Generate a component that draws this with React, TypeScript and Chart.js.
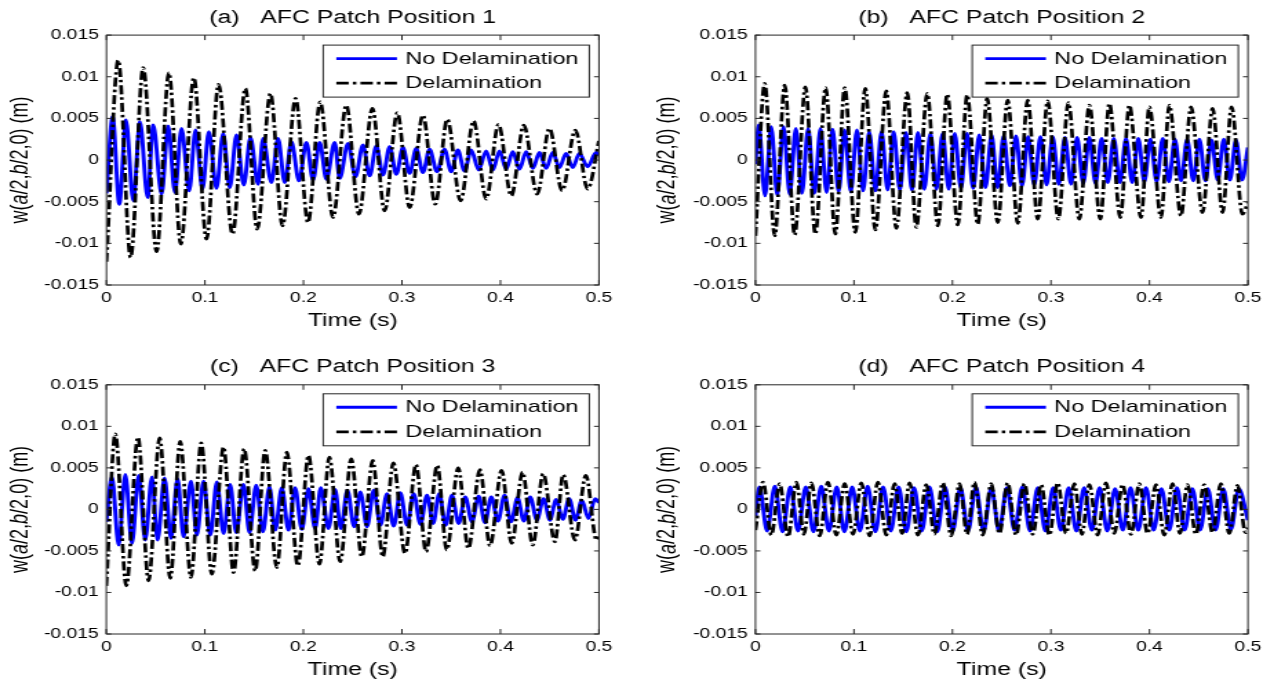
import React, { useEffect, useRef } from 'react';
import { Chart, registerables } from 'chart.js';

Chart.register(...registerables);

type Pt = [number, number];

// ---------- text / ticks ----------
const seriesNames = ['No Delamination', 'Delamination'];
const panelTitles = [
  '(a)   AFC Patch Position 1',
  '(b)   AFC Patch Position 2',
  '(c)   AFC Patch Position 3',
  '(d)   AFC Patch Position 4',
];
const xAxisTitle = 'Time (s)';
// y-axis title pieces: [text, italic?]
const yAxisTitleParts: [string, boolean][] = [
  ['w(', false],
  ['a', true],
  ['/2,', false],
  ['b', true],
  ['/2,0) (m)', false],
];
const xTickValues = [0, 0.1, 0.2, 0.3, 0.4, 0.5];
const xTickLabels = ['0', '0.1', '0.2', '0.3', '0.4', '0.5'];
const yTickValues = [-0.015, -0.01, -0.005, 0, 0.005, 0.01, 0.015];
const yTickLabels = ['-0.015', '-0.01', '-0.005', '0', '0.005', '0.01', '0.015'];

// ---------- series: [time (s), w (m)] at extrema ----------
const noDelamA: Pt[] = [
  [0, -0.004],
  [0.0063, 0.0052], [0.013, -0.0053], [0.0198, 0.0048], [0.0272, -0.0049],
  [0.034, 0.0046], [0.0418, -0.0045], [0.0475, 0.0042], [0.056, -0.0041],
  [0.0627, 0.0041], [0.0695, -0.0039], [0.0762, 0.0038], [0.084, -0.0037],
  [0.0904, 0.0036], [0.0975, -0.0035], [0.1039, 0.0034], [0.1117, -0.0034],
  [0.1185, 0.0032], [0.1252, -0.0033], [0.132, 0.003], [0.1394, -0.003],
  [0.1462, 0.0027], [0.1539, -0.0029], [0.159, 0.0026], [0.1675, -0.0027],
  [0.1742, 0.0026], [0.181, -0.0027], [0.1878, 0.0022], [0.1955, -0.0025],
  [0.203, 0.0021], [0.2097, -0.0024], [0.2165, 0.0021], [0.2233, -0.0023],
  [0.2317, 0.0021], [0.2368, -0.0022], [0.2452, 0.002], [0.2528, -0.002],
  [0.2604, 0.0018], [0.2672, -0.0019], [0.274, 0.0017], [0.2808, -0.0018],
  [0.2875, 0.0016], [0.2943, -0.0017], [0.301, 0.0015], [0.3078, -0.0016],
  [0.3145, 0.0014], [0.3213, -0.0015], [0.328, 0.0013], [0.3356, -0.0014],
  [0.3432, 0.0013], [0.35, -0.0014], [0.3567, 0.0012], [0.3635, -0.0013],
  [0.3703, 0.0012], [0.3779, -0.0012], [0.3855, 0.0011], [0.3923, -0.0012],
  [0.399, 0.0011], [0.4058, -0.0011], [0.4125, 0.001], [0.4193, -0.0011],
  [0.4261, 0.001], [0.4329, -0.001], [0.4396, 0.0009], [0.4464, -0.001],
  [0.4531, 0.0009], [0.4599, -0.0009], [0.4666, 0.0008], [0.4734, -0.0009],
  [0.4801, 0.0008], [0.4886, -0.0008], [0.4971, 0.0009], [0.5, 0.0006],
];
const delamA: Pt[] = [
  [0, -0.0122], [0.012, 0.012], [0.0245, -0.0117], [0.0373, 0.0111],
  [0.0509, -0.011], [0.0634, 0.0105], [0.0755, -0.0101], [0.0887, 0.0099],
  [0.1016, -0.0095], [0.1138, 0.0091], [0.128, -0.0089], [0.141, 0.0086],
  [0.153, -0.0083], [0.1665, 0.008], [0.1787, -0.0079], [0.192, 0.0074],
  [0.2046, -0.0075], [0.217, 0.007], [0.23, -0.0069], [0.2435, 0.0066],
  [0.2563, -0.0065], [0.27, 0.0062], [0.2824, -0.0061], [0.2953, 0.0057],
  [0.3078, -0.0057], [0.3213, 0.0054], [0.3338, -0.0053], [0.346, 0.0049],
  [0.3595, -0.0049], [0.3727, 0.0047], [0.3855, -0.0047], [0.398, 0.0043],
  [0.411, -0.0043], [0.4237, 0.0042], [0.4373, -0.0041], [0.4497, 0.0038],
  [0.4626, -0.0037], [0.476, 0.0036], [0.4885, -0.0035], [0.5, 0.0023],
];

const noDelamB: Pt[] = [
  [0, -0.0005],
  [0.0033, 0.0042], [0.0097, -0.0043], [0.016, 0.004], [0.0222, -0.0042],
  [0.0285, 0.004], [0.0348, -0.0041], [0.041, 0.0038], [0.0472, -0.004],
  [0.0535, 0.0038], [0.0598, -0.004], [0.066, 0.0038], [0.0722, -0.0039],
  [0.0783, 0.0037], [0.0844, -0.0038], [0.0905, 0.0036], [0.0968, -0.0038],
  [0.103, 0.0036], [0.1093, -0.0037], [0.1155, 0.0034], [0.1218, -0.0037],
  [0.128, 0.0034], [0.1342, -0.0036], [0.1403, 0.0034], [0.1466, -0.0036],
  [0.1528, 0.0033], [0.1589, -0.0036], [0.165, 0.0033], [0.1714, -0.0035],
  [0.1777, 0.0032], [0.1838, -0.0035], [0.19, 0.0032], [0.1962, -0.0035],
  [0.2023, 0.0032], [0.2086, -0.0034], [0.2148, 0.0032], [0.221, -0.0034],
  [0.2272, 0.003], [0.2335, -0.0033], [0.2397, 0.003], [0.2458, -0.0033],
  [0.252, 0.0029], [0.2583, -0.0031], [0.2645, 0.0029], [0.2706, -0.0031],
  [0.2768, 0.0028], [0.283, -0.003], [0.2893, 0.0028], [0.2956, -0.003],
  [0.3018, 0.0028], [0.308, -0.0029], [0.3142, 0.0027], [0.3204, -0.0029],
  [0.3265, 0.0027], [0.3328, -0.0028], [0.339, 0.0027], [0.3452, -0.0028],
  [0.3515, 0.0026], [0.3577, -0.0027], [0.3638, 0.0026], [0.37, -0.0027],
  [0.3762, 0.0026], [0.3825, -0.0027], [0.3887, 0.0026], [0.3948, -0.0026],
  [0.401, 0.0025], [0.4073, -0.0026], [0.4135, 0.0026], [0.4197, -0.0026],
  [0.4258, 0.0025], [0.4321, -0.0025], [0.4383, 0.0025], [0.4445, -0.0025],
  [0.4507, 0.0025], [0.4568, -0.0025], [0.463, 0.0024], [0.4693, -0.0024],
  [0.4755, 0.0025], [0.4817, -0.0024], [0.4878, 0.0024], [0.494, -0.0024],
  [0.5, 0.0015],
];
const delamB: Pt[] = [
  [0, -0.0091], [0.0094, 0.0092], [0.0196, -0.0091], [0.0297, 0.009],
  [0.0398, -0.009], [0.0507, 0.0088], [0.0608, -0.0089], [0.0713, 0.0087],
  [0.0811, -0.0089], [0.0906, 0.0087], [0.1014, -0.0087], [0.1115, 0.0086],
  [0.1217, -0.0084], [0.1328, 0.0083], [0.143, -0.0082], [0.1541, 0.0081],
  [0.1633, -0.0081], [0.1744, 0.008], [0.1852, -0.0079], [0.1947, 0.0079],
  [0.2054, -0.0078], [0.215, 0.0078], [0.2257, -0.0077], [0.2352, 0.0074],
  [0.246, -0.0075], [0.2561, 0.0072], [0.2663, -0.0076], [0.2764, 0.0072],
  [0.2866, -0.0071], [0.2967, 0.0071], [0.3075, -0.0071], [0.3177, 0.0069],
  [0.3288, -0.0071], [0.339, 0.0066], [0.3501, -0.0071], [0.3593, 0.0068],
  [0.3704, -0.0069], [0.3796, 0.0066], [0.3914, -0.0069], [0.3999, 0.0064],
  [0.4117, -0.0069], [0.4202, 0.0066], [0.432, -0.0067], [0.4422, 0.0064],
  [0.4539, -0.0063], [0.4641, 0.0062], [0.4742, -0.0063], [0.4834, 0.0064],
  [0.4944, -0.0065], [0.5, -0.0051],
];

const noDelamC: Pt[] = [
  [0, -0.0015],
  [0.0057, 0.0039], [0.0125, -0.0043], [0.0193, 0.0042], [0.026, -0.0041],
  [0.0328, 0.0041], [0.0395, -0.0037], [0.0463, 0.0039], [0.052, -0.0037],
  [0.0591, 0.0038], [0.0656, -0.0035], [0.0723, 0.0037], [0.0784, -0.0033],
  [0.0859, 0.0034], [0.0919, -0.0031], [0.0987, 0.0034], [0.1055, -0.0031],
  [0.1122, 0.0033], [0.119, -0.0029], [0.1257, 0.003], [0.1318, -0.0028],
  [0.1392, 0.003], [0.1453, -0.0028], [0.1521, 0.0029], [0.1589, -0.0027],
  [0.1656, 0.0027], [0.1714, -0.0025], [0.1781, 0.0026], [0.1849, -0.0025],
  [0.1916, 0.0026], [0.1984, -0.0024], [0.2052, 0.0025], [0.2119, -0.0023],
  [0.2177, 0.0026], [0.2254, -0.0023], [0.2322, 0.0024], [0.238, -0.0023],
  [0.2447, 0.0023], [0.2515, -0.0021], [0.2578, 0.0021], [0.2646, -0.0021],
  [0.2714, 0.0023], [0.2782, -0.0019], [0.2849, 0.0019], [0.2917, -0.002],
  [0.2984, 0.002], [0.3052, -0.0019], [0.312, 0.0019], [0.3188, -0.0018],
  [0.3255, 0.0017], [0.3317, -0.0017], [0.3379, 0.0019], [0.3444, -0.0019],
  [0.3508, 0.0017], [0.3576, -0.0017], [0.3643, 0.0015], [0.3711, -0.0015],
  [0.3779, 0.0016], [0.3843, -0.0016], [0.3907, 0.0015], [0.3975, -0.0014],
  [0.4042, 0.0017], [0.4108, -0.0015], [0.4174, 0.0014], [0.4238, -0.0014],
  [0.4302, 0.0015], [0.437, -0.0013], [0.4438, 0.0013], [0.4502, -0.0013],
  [0.4566, 0.0012], [0.4632, -0.0012], [0.4698, 0.0013], [0.4762, -0.0013],
  [0.4826, 0.0011], [0.4894, -0.0011], [0.4961, 0.0013], [0.5, 0.0008],
];
const delamC: Pt[] = [
  [0, -0.0092], [0.0091, 0.0091], [0.0203, -0.0092], [0.0321, 0.0087],
  [0.0429, -0.0086], [0.0541, 0.0086], [0.0649, -0.0083], [0.075, 0.0082],
  [0.0859, -0.0082], [0.0963, 0.008], [0.1071, -0.0078], [0.119, 0.0075],
  [0.1291, -0.0076], [0.1399, 0.0073], [0.1511, -0.0074], [0.1612, 0.0071],
  [0.1731, -0.007], [0.1832, 0.0069], [0.1944, -0.0068], [0.2052, 0.0065],
  [0.2163, -0.0066], [0.2264, 0.0063], [0.2373, -0.0063], [0.2486, 0.0061],
  [0.2593, -0.0057], [0.2704, 0.0059], [0.2806, -0.0057], [0.2913, 0.0056],
  [0.3032, -0.0053], [0.3143, 0.0054], [0.3245, -0.0051], [0.3359, 0.0053],
  [0.3455, -0.0049], [0.3572, 0.005], [0.3674, -0.0047], [0.3792, 0.0048],
  [0.3894, -0.0044], [0.4012, 0.0047], [0.4114, -0.0041], [0.4225, 0.0045],
  [0.4327, -0.0043], [0.4434, 0.0043], [0.4553, -0.0039], [0.4637, 0.0042],
  [0.4756, -0.0037], [0.4867, 0.0041], [0.4976, -0.0037], [0.5, -0.0033],
];

const noDelamD: Pt[] = [
  [0, -0.0008],
  [0.004, 0.0027], [0.0118, -0.0026], [0.0197, 0.0028], [0.0275, -0.0027],
  [0.0354, 0.0027], [0.0432, -0.0026], [0.0511, 0.0027], [0.0589, -0.0027],
  [0.0668, 0.0028], [0.0746, -0.0026], [0.0825, 0.0027], [0.0903, -0.0027],
  [0.0982, 0.0027], [0.106, -0.0026], [0.1139, 0.0028], [0.1217, -0.0027],
  [0.1296, 0.0027], [0.1374, -0.0026], [0.1453, 0.0027], [0.1531, -0.0027],
  [0.161, 0.0026], [0.1688, -0.0026], [0.1767, 0.0027], [0.1845, -0.0027],
  [0.1924, 0.0027], [0.2002, -0.0026], [0.2081, 0.0026], [0.2159, -0.0026],
  [0.2238, 0.0027], [0.2316, -0.0026], [0.2395, 0.0026], [0.2473, -0.0026],
  [0.2552, 0.0026], [0.263, -0.0025], [0.2709, 0.0027], [0.2787, -0.0026],
  [0.2866, 0.0026], [0.2944, -0.0026], [0.3023, 0.0026], [0.3101, -0.0025],
  [0.318, 0.0026], [0.3258, -0.0026], [0.3337, 0.0026], [0.3415, -0.0025],
  [0.3494, 0.0026], [0.3572, -0.0026], [0.3651, 0.0025], [0.3729, -0.0025],
  [0.3808, 0.0026], [0.3886, -0.0025], [0.3965, 0.0026], [0.4043, -0.0025],
  [0.4122, 0.0025], [0.42, -0.0025], [0.4279, 0.0026], [0.4357, -0.0025],
  [0.4436, 0.0025], [0.4514, -0.0025], [0.4593, 0.0025], [0.4671, -0.0025],
  [0.475, 0.0025], [0.4828, -0.0024], [0.4907, 0.0025], [0.5, -0.0013],
];
const delamD: Pt[] = [
  [0, -0.0025],
  [0.0077, 0.0033], [0.0161, -0.0031], [0.0246, 0.0031], [0.0331, -0.0033],
  [0.0416, 0.0033], [0.0492, -0.003], [0.0568, 0.0032], [0.0652, -0.0032],
  [0.0736, 0.0033], [0.0821, -0.0031], [0.0906, 0.0031], [0.099, -0.003],
  [0.1075, 0.0032], [0.1159, -0.0032], [0.1243, 0.0033], [0.1328, -0.0031],
  [0.1413, 0.0031], [0.1489, -0.0029], [0.1565, 0.0032], [0.165, -0.0031],
  [0.1734, 0.003], [0.1818, -0.003], [0.1902, 0.0032], [0.1987, -0.0032],
  [0.2072, 0.0031], [0.2148, -0.003], [0.2224, 0.0033], [0.2308, -0.0031],
  [0.2393, 0.0031], [0.2477, -0.0029], [0.2561, 0.0032], [0.2646, -0.0031],
  [0.2731, 0.0031], [0.2815, -0.003], [0.29, 0.003], [0.2984, -0.0031],
  [0.3068, 0.0032], [0.3153, -0.0029], [0.3238, 0.0031], [0.3314, -0.003],
  [0.339, 0.003], [0.3474, -0.0031], [0.3559, 0.0032], [0.3643, -0.0029],
  [0.3727, 0.003], [0.3812, -0.003], [0.3897, 0.0031], [0.3981, -0.0029],
  [0.4066, 0.003], [0.415, -0.0031], [0.4234, 0.0031], [0.431, -0.0029],
  [0.4387, 0.003], [0.4471, -0.003], [0.4556, 0.003], [0.464, -0.0028],
  [0.4725, 0.0031], [0.481, -0.0029], [0.4894, 0.0029], [0.4975, -0.0028],
  [0.5, -0.0022],
];

// ---------- layout (canvas is drawn at 462 px wide and shown 637 px wide) ----------
const CANVAS_W = 462;
const CANVAS_H = 341;
const SHOW_W = 637;
const FONT = '"Liberation Sans", Arial, Helvetica, sans-serif';

type PanelCfg = {
  title: string;
  noDelam: Pt[];
  delam: Pt[];
  left: number;
  top: number;
  yAxisW: number;
  padRight: number;
  padTop: number;
  titlePadTop: number;
  titlePadBottom: number;
  xAxisH: number;
  xTitlePadBottom: number;
  yTitleX: number;
  legendTop: number;
};

const panels: PanelCfg[] = [
  { title: panelTitles[0], noDelam: noDelamA, delam: delamA, left: 0, top: 0, yAxisW: 77.2, padRight: 27.6, padTop: 0, titlePadTop: 7.5, titlePadBottom: 6, xAxisH: 56, xTitlePadBottom: 9, yTitleX: 15.2, legendTop: 10 },
  { title: panelTitles[1], noDelam: noDelamB, delam: delamB, left: 637, top: 0, yAxisW: 85.9, padRight: 18.9, padTop: 0, titlePadTop: 7.5, titlePadBottom: 6, xAxisH: 56, xTitlePadBottom: 9, yTitleX: 22.5, legendTop: 10 },
  { title: panelTitles[2], noDelam: noDelamC, delam: delamC, left: 0, top: 341, yAxisW: 77.1, padRight: 27.6, padTop: 8, titlePadTop: 7, titlePadBottom: 7.2, xAxisH: 48, xTitlePadBottom: 1.5, yTitleX: 15.2, legendTop: 9 },
  { title: panelTitles[3], noDelam: noDelamD, delam: delamD, left: 637, top: 341, yAxisW: 85.9, padRight: 18.9, padTop: 8, titlePadTop: 7, titlePadBottom: 7.2, xAxisH: 48, xTitlePadBottom: 1.5, yTitleX: 22.5, legendTop: 9 },
];

const framePlugin = {
  id: 'matlabFrame',
  afterDatasetsDraw(chart: any) {
    const { ctx, chartArea } = chart;
    const { left, right, top, bottom } = chartArea;
    const xs = chart.scales.x;
    const ys = chart.scales.y;
    ctx.save();
    ctx.strokeStyle = '#262626';
    ctx.lineWidth = 1;
    ctx.setLineDash([]);
    ctx.strokeRect(left, top, right - left, bottom - top);
    ctx.beginPath();
    xs.ticks.forEach((t: any) => {
      const px = xs.getPixelForValue(t.value);
      ctx.moveTo(px, bottom);
      ctx.lineTo(px, bottom - 5);
      ctx.moveTo(px, top);
      ctx.lineTo(px, top + 5);
    });
    ys.ticks.forEach((t: any) => {
      const py = ys.getPixelForValue(t.value);
      ctx.moveTo(left, py);
      ctx.lineTo(left + 3.6, py);
      ctx.moveTo(right, py);
      ctx.lineTo(right - 3.6, py);
    });
    ctx.stroke();
    ctx.restore();
  },
};

const yTitlePlugin = {
  id: 'yTitle',
  afterDraw(chart: any) {
    const { ctx, chartArea } = chart;
    const cx = chart.options.plugins.yTitle?.x ?? 15;
    const cy = (chartArea.top + chartArea.bottom) / 2;
    ctx.save();
    ctx.translate(cx, cy);
    ctx.rotate(-Math.PI / 2);
    ctx.fillStyle = '#000000';
    ctx.textBaseline = 'middle';
    ctx.textAlign = 'left';
    const fontOf = (it: boolean) => `${it ? 'italic ' : ''}18px ${FONT}`;
    let total = 0;
    yAxisTitleParts.forEach(([s, it]) => {
      ctx.font = fontOf(it);
      total += ctx.measureText(s).width;
    });
    let x = -total / 2;
    yAxisTitleParts.forEach(([s, it]) => {
      ctx.font = fontOf(it);
      ctx.fillText(s, x, 0);
      x += ctx.measureText(s).width;
    });
    ctx.restore();
  },
};

const legendPlugin = {
  id: 'boxLegend',
  afterDatasetsDraw(chart: any) {
    const { ctx, chartArea } = chart;
    const legendTop = chart.options.plugins.boxLegend?.top ?? 10;
    const w = 193;
    const h = 52;
    const x0 = chartArea.right - 7 - w;
    const y0 = chartArea.top + legendTop;
    ctx.save();
    ctx.fillStyle = '#ffffff';
    ctx.fillRect(x0, y0, w, h);
    ctx.strokeStyle = '#262626';
    ctx.lineWidth = 1;
    ctx.strokeRect(x0, y0, w, h);
    [0, 1].forEach((i, row) => {
      const ds = chart.data.datasets[i];
      const y = y0 + 13.5 + row * 24.5;
      ctx.beginPath();
      ctx.setLineDash(ds.borderDash || []);
      ctx.strokeStyle = ds.borderColor;
      ctx.lineWidth = ds.borderWidth;
      ctx.moveTo(x0 + 9.5, y);
      ctx.lineTo(x0 + 53.5, y);
      ctx.stroke();
      ctx.setLineDash([]);
      ctx.fillStyle = '#000000';
      ctx.font = `17px ${FONT}`;
      ctx.textBaseline = 'middle';
      ctx.textAlign = 'left';
      ctx.fillText(ds.label, x0 + 59.5, y + 0.5);
    });
    ctx.restore();
  },
};

function Panel({ cfg }: { cfg: PanelCfg }) {
  const ref = useRef<HTMLCanvasElement | null>(null);

  useEffect(() => {
    const canvas = ref.current;
    if (!canvas) return;
    const chart = new Chart(canvas, {
      type: 'line',
      data: {
        datasets: [
          {
            label: seriesNames[0],
            data: cfg.noDelam.map(([x, y]) => ({ x, y })),
            borderColor: '#0000ff',
            backgroundColor: '#0000ff',
            borderWidth: 2.9,
            pointRadius: 0,
            fill: false,
            cubicInterpolationMode: 'monotone',
            order: 1,
          },
          {
            label: seriesNames[1],
            data: cfg.delam.map(([x, y]) => ({ x, y })),
            borderColor: '#000000',
            backgroundColor: '#000000',
            borderWidth: 2.7,
            borderDash: [9, 3, 2.5, 3],
            pointRadius: 0,
            fill: false,
            cubicInterpolationMode: 'monotone',
            order: 0,
          },
        ],
      },
      options: {
        responsive: false,
        animation: false,
        devicePixelRatio: 1,
        events: [],
        layout: { padding: { left: 0, right: cfg.padRight, top: cfg.padTop, bottom: 0 } },
        plugins: {
          legend: { display: false },
          tooltip: { enabled: false },
          title: {
            display: true,
            fullSize: false,
            text: cfg.title,
            color: '#000000',
            font: { family: FONT, size: 18, weight: 'normal', lineHeight: 1.2 },
            padding: { top: cfg.titlePadTop, bottom: cfg.titlePadBottom },
          },
          boxLegend: { top: cfg.legendTop },
          yTitle: { x: cfg.yTitleX },
        } as any,
        scales: {
          x: {
            type: 'linear',
            min: 0,
            max: 0.5,
            afterBuildTicks: (scale: any) => {
              scale.ticks = xTickValues.map((v) => ({ value: v }));
            },
            afterFit: (scale: any) => {
              scale.height = cfg.xAxisH;
            },
            grid: { display: false, drawTicks: false },
            border: { display: false },
            ticks: {
              autoSkip: false,
              maxRotation: 0,
              padding: 5.1,
              color: '#000000',
              font: { family: FONT, size: 14 },
              callback: (_v: any, i: number) => xTickLabels[i],
            },
            title: {
              display: true,
              text: xAxisTitle,
              color: '#000000',
              font: { family: FONT, size: 18 },
              padding: { top: 0, bottom: cfg.xTitlePadBottom },
            },
          },
          y: {
            type: 'linear',
            min: -0.015,
            max: 0.015,
            afterBuildTicks: (scale: any) => {
              scale.ticks = yTickValues.map((v) => ({ value: v }));
            },
            afterFit: (scale: any) => {
              scale.width = cfg.yAxisW;
            },
            grid: { display: false, drawTicks: false },
            border: { display: false },
            ticks: {
              autoSkip: false,
              padding: 5.5,
              color: '#000000',
              font: { family: FONT, size: 14 },
              callback: (_v: any, i: number) => yTickLabels[i],
            },
            title: { display: false },
          },
        },
      } as any,
      plugins: [framePlugin, legendPlugin, yTitlePlugin],
    });
    return () => chart.destroy();
  }, [cfg]);

  return (
    <canvas
      ref={ref}
      width={CANVAS_W}
      height={CANVAS_H}
      style={{
        position: 'absolute',
        left: cfg.left,
        top: cfg.top,
        width: SHOW_W,
        height: CANVAS_H,
        display: 'block',
      }}
    />
  );
}

export default function App() {
  return (
    <div
      style={{
        position: 'fixed',
        left: 0,
        top: 0,
        width: 1274,
        height: 682,
        background: '#ffffff',
        overflow: 'hidden',
      }}
    >
      {panels.map((p, i) => (
        <Panel key={i} cfg={p} />
      ))}
    </div>
  );
}
